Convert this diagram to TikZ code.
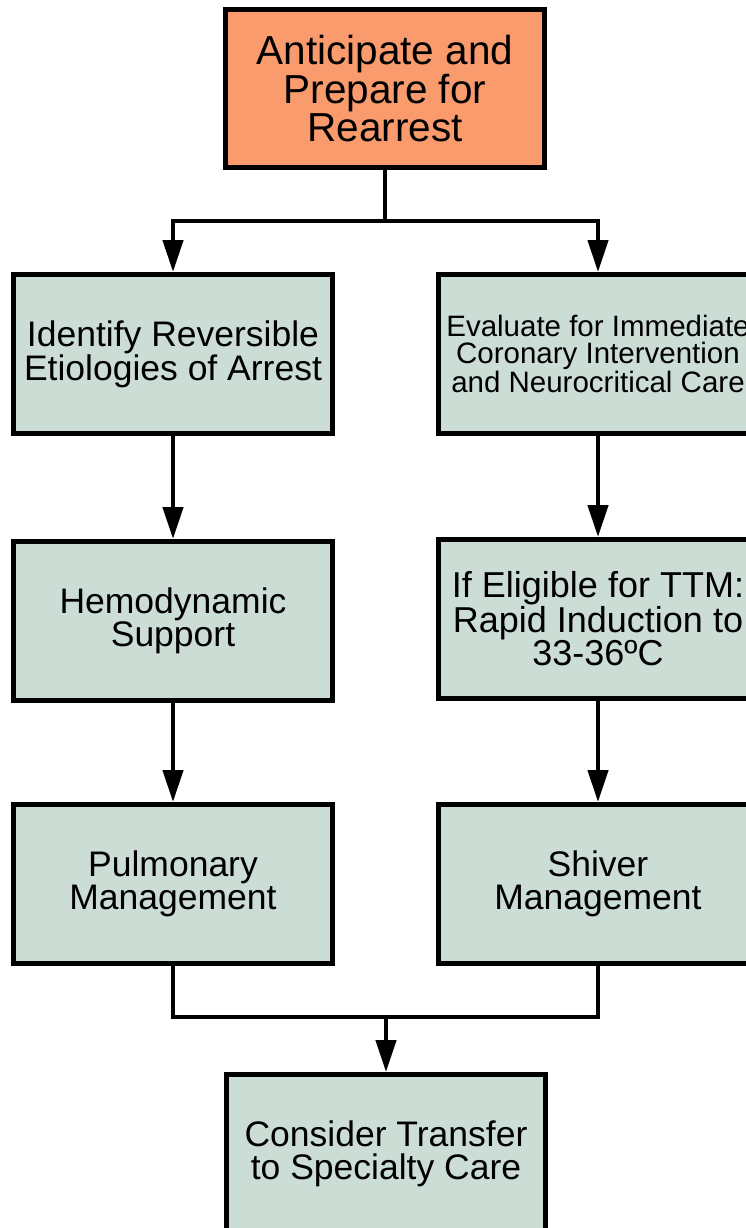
\documentclass[tikz,border=0pt]{standalone}
\usepackage{fontspec}
\setmainfont{Liberation Sans}
\usetikzlibrary{arrows.meta}
\definecolor{boxgreen}{RGB}{204,221,214}
\definecolor{boxorange}{RGB}{249,155,109}
\tikzset{
  flowbox/.style={draw=black, line width=5pt, fill=boxgreen, minimum width=319pt, minimum height=159pt, inner sep=0pt, align=center, text=black},
  topbox/.style={flowbox, fill=boxorange, minimum height=158pt},
  conn/.style={line width=4.5pt, line join=miter},
  arr/.style={conn, -{Triangle[length=32pt,width=20pt]}},
  fbig/.style={font=\fontsize{40.5}{37.5}\selectfont},
  fmid/.style={font=\fontsize{35.5}{33}\selectfont},
  fsmall/.style={font=\fontsize{29.5}{27}\selectfont}
}
\begin{document}
\begin{tikzpicture}[x=1pt,y=-1pt]
\useasboundingbox (0,0) rectangle (746,1228);
\fill[white] (0,0) rectangle (746,1228);
\clip (0,0) rectangle (746,1228);
\node[topbox, fbig] (top) at (385,88.5) {Anticipate and\\Prepare for\\Rearrest};
\node[flowbox, fmid] (l1) at (173,354) {Identify Reversible\\Etiologies of Arrest};
\node[flowbox, fmid] (l2) at (173,621) {Hemodynamic\\Support};
\node[flowbox, fmid] (l3) at (173,884) {Pulmonary\\Management};
\node[flowbox, fsmall] (r1) at (598,354) {Evaluate for Immediate\\Coronary Intervention\\and Neurocritical Care};
\node[flowbox, font=\fontsize{36}{32}\selectfont] (r2) at (598,619) {If Eligible for TTM:\\Rapid Induction to\\33-36ºC};
\node[flowbox, fmid] (r3) at (598,884) {Shiver\\Management};
\node[flowbox, fmid] (bot) at (386,1154) {Consider Transfer\\to Specialty Care};
\coordinate (split) at (385,221);
\coordinate (merge) at (386,1017);
\draw[conn] (top.south) -- (split);
\draw[arr] (split) -| (l1.north);
\draw[arr] (split) -| (r1.north);
\draw[arr] (l1) -- (l2);
\draw[arr] (l2) -- (l3);
\draw[arr] (r1) -- (r2);
\draw[arr] (r2) -- (r3);
\draw[conn] (l3.south) |- (merge) -| (r3.south);
\draw[arr] (merge) -- (bot.north);
\end{tikzpicture}
\end{document}
